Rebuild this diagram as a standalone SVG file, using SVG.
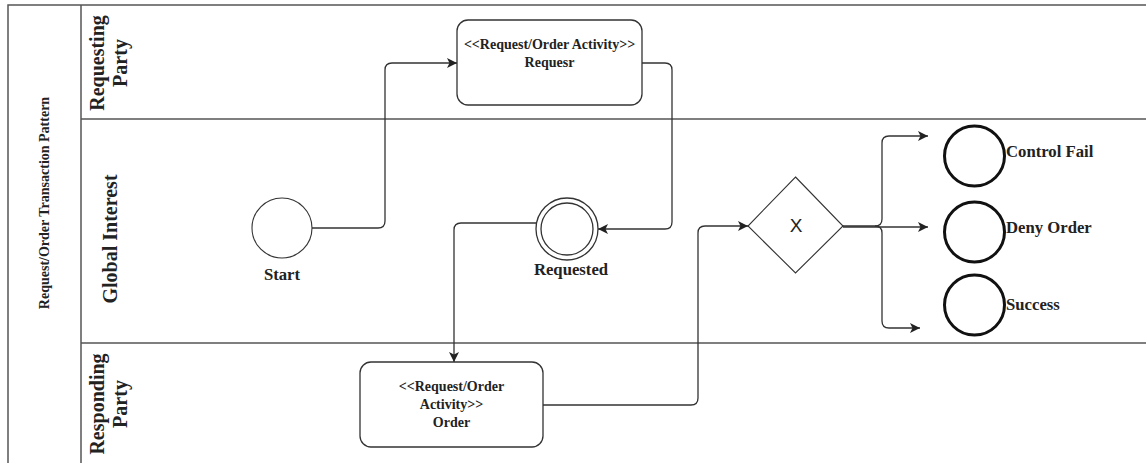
<svg xmlns="http://www.w3.org/2000/svg" width="1146" height="463" viewBox="0 0 1146 463">
  <style>
    .frame { fill: none; stroke: #555; stroke-width: 1.5; }
    .conn { fill: none; stroke: #333; stroke-width: 1.3; }
    .task { fill: #fff; stroke: #333; stroke-width: 1.3; }
    .evt { fill: #fff; stroke: #333; stroke-width: 1.1; }
    .end { fill: #fff; stroke: #111; stroke-width: 3; }
    .lbl { font-family: "Liberation Serif", "Times New Roman", serif; font-weight: bold; fill: #222; }
    .lane { font-size: 20px; text-anchor: middle; }
    .pool { font-size: 14px; text-anchor: middle; }
    .box { font-size: 14px; text-anchor: middle; }
    .ev { font-size: 16.7px; }
  </style>
  <defs>
    <marker id="arrow" viewBox="0 0 10 10" refX="10" refY="5" markerWidth="10" markerHeight="10" markerUnits="userSpaceOnUse" orient="auto">
      <path d="M0,0 L10,5 L0,10 L2.5,5 Z" fill="#222"/>
    </marker>
  </defs>

  <!-- pool and lane frame -->
  <g id="pool">
    <path class="frame" d="M8,463 V5 H1146"/>
    <path class="frame" d="M81,5 V463"/>
    <path class="frame" d="M81,119 H1146"/>
    <path class="frame" d="M81,343 H1146"/>
    <text class="lbl pool" transform="translate(49,203) rotate(-90)">Request/Order Transaction Pattern</text>
  </g>

  <g id="lane-requesting">
    <text class="lbl lane" transform="translate(104,63) rotate(-90)"><tspan x="0" y="0">Requesting</tspan><tspan x="0" dy="23">Party</tspan></text>
  </g>
  <g id="lane-global">
    <text class="lbl lane" transform="translate(117,239) rotate(-90)">Global Interest</text>
  </g>
  <g id="lane-responding">
    <text class="lbl lane" transform="translate(104,404) rotate(-90)"><tspan x="0" y="0">Responding</tspan><tspan x="0" dy="23">Party</tspan></text>
  </g>

  <!-- connectors -->
  <g id="connectors">
    <path class="conn" marker-end="url(#arrow)" d="M312,228 H378 Q385,228 385,221 V70 Q385,63 392,63 H457"/>
    <path class="conn" marker-end="url(#arrow)" d="M642,63 H665 Q672,63 672,70 V222 Q672,229 665,229 H598"/>
    <path class="conn" marker-end="url(#arrow)" d="M537,223 H461 Q454,223 454,230 V362"/>
    <path class="conn" marker-end="url(#arrow)" d="M543,405 H691 Q698,405 698,398 V233 Q698,226 705,226 H748"/>
    <path class="conn" marker-end="url(#arrow)" d="M843,226 H875 Q882,226 882,219 V143 Q882,136 889,136 H928"/>
    <path class="conn" marker-end="url(#arrow)" d="M843,227 H928"/>
    <path class="conn" marker-end="url(#arrow)" d="M875,226 Q882,226 882,233 V321 Q882,328 889,328 H920"/>
  </g>

  <!-- nodes -->
  <g id="start">
    <circle class="evt" cx="282" cy="228" r="30"/>
    <text class="lbl ev" x="282" y="280" text-anchor="middle">Start</text>
  </g>

  <g id="task-request">
    <rect class="task" x="457" y="20" width="185" height="85" rx="11"/>
    <text class="lbl box" x="549.5" y="49">&lt;&lt;Request/Order Activity&gt;&gt;</text>
    <text class="lbl box" x="549.5" y="67">Requesr</text>
  </g>

  <g id="requested">
    <circle class="task" cx="567" cy="229" r="31"/>
    <circle class="task" cx="567" cy="229" r="26"/>
    <text class="lbl ev" x="571" y="275" text-anchor="middle">Requested</text>
  </g>

  <g id="task-order">
    <rect class="task" x="360" y="362" width="183" height="85" rx="11"/>
    <text class="lbl box" x="451.5" y="391">&lt;&lt;Request/Order</text>
    <text class="lbl box" x="451.5" y="409">Activity&gt;&gt;</text>
    <text class="lbl box" x="451.5" y="427">Order</text>
  </g>

  <g id="gateway">
    <polygon class="evt" points="795.5,177 843,226 795.5,273 748,226"/>
    <text x="796" y="232" text-anchor="middle" font-family="Liberation Sans, Arial, sans-serif" font-size="19" fill="#222">X</text>
  </g>

  <g id="end-control-fail">
    <circle class="end" cx="974.5" cy="156" r="30"/>
    <text class="lbl ev" x="1006" y="157">Control Fail</text>
  </g>
  <g id="end-deny-order">
    <circle class="end" cx="974.5" cy="232" r="30"/>
    <text class="lbl ev" x="1006" y="233">Deny Order</text>
  </g>
  <g id="end-success">
    <circle class="end" cx="974.5" cy="305" r="30"/>
    <text class="lbl ev" x="1006" y="310">Success</text>
  </g>
</svg>
